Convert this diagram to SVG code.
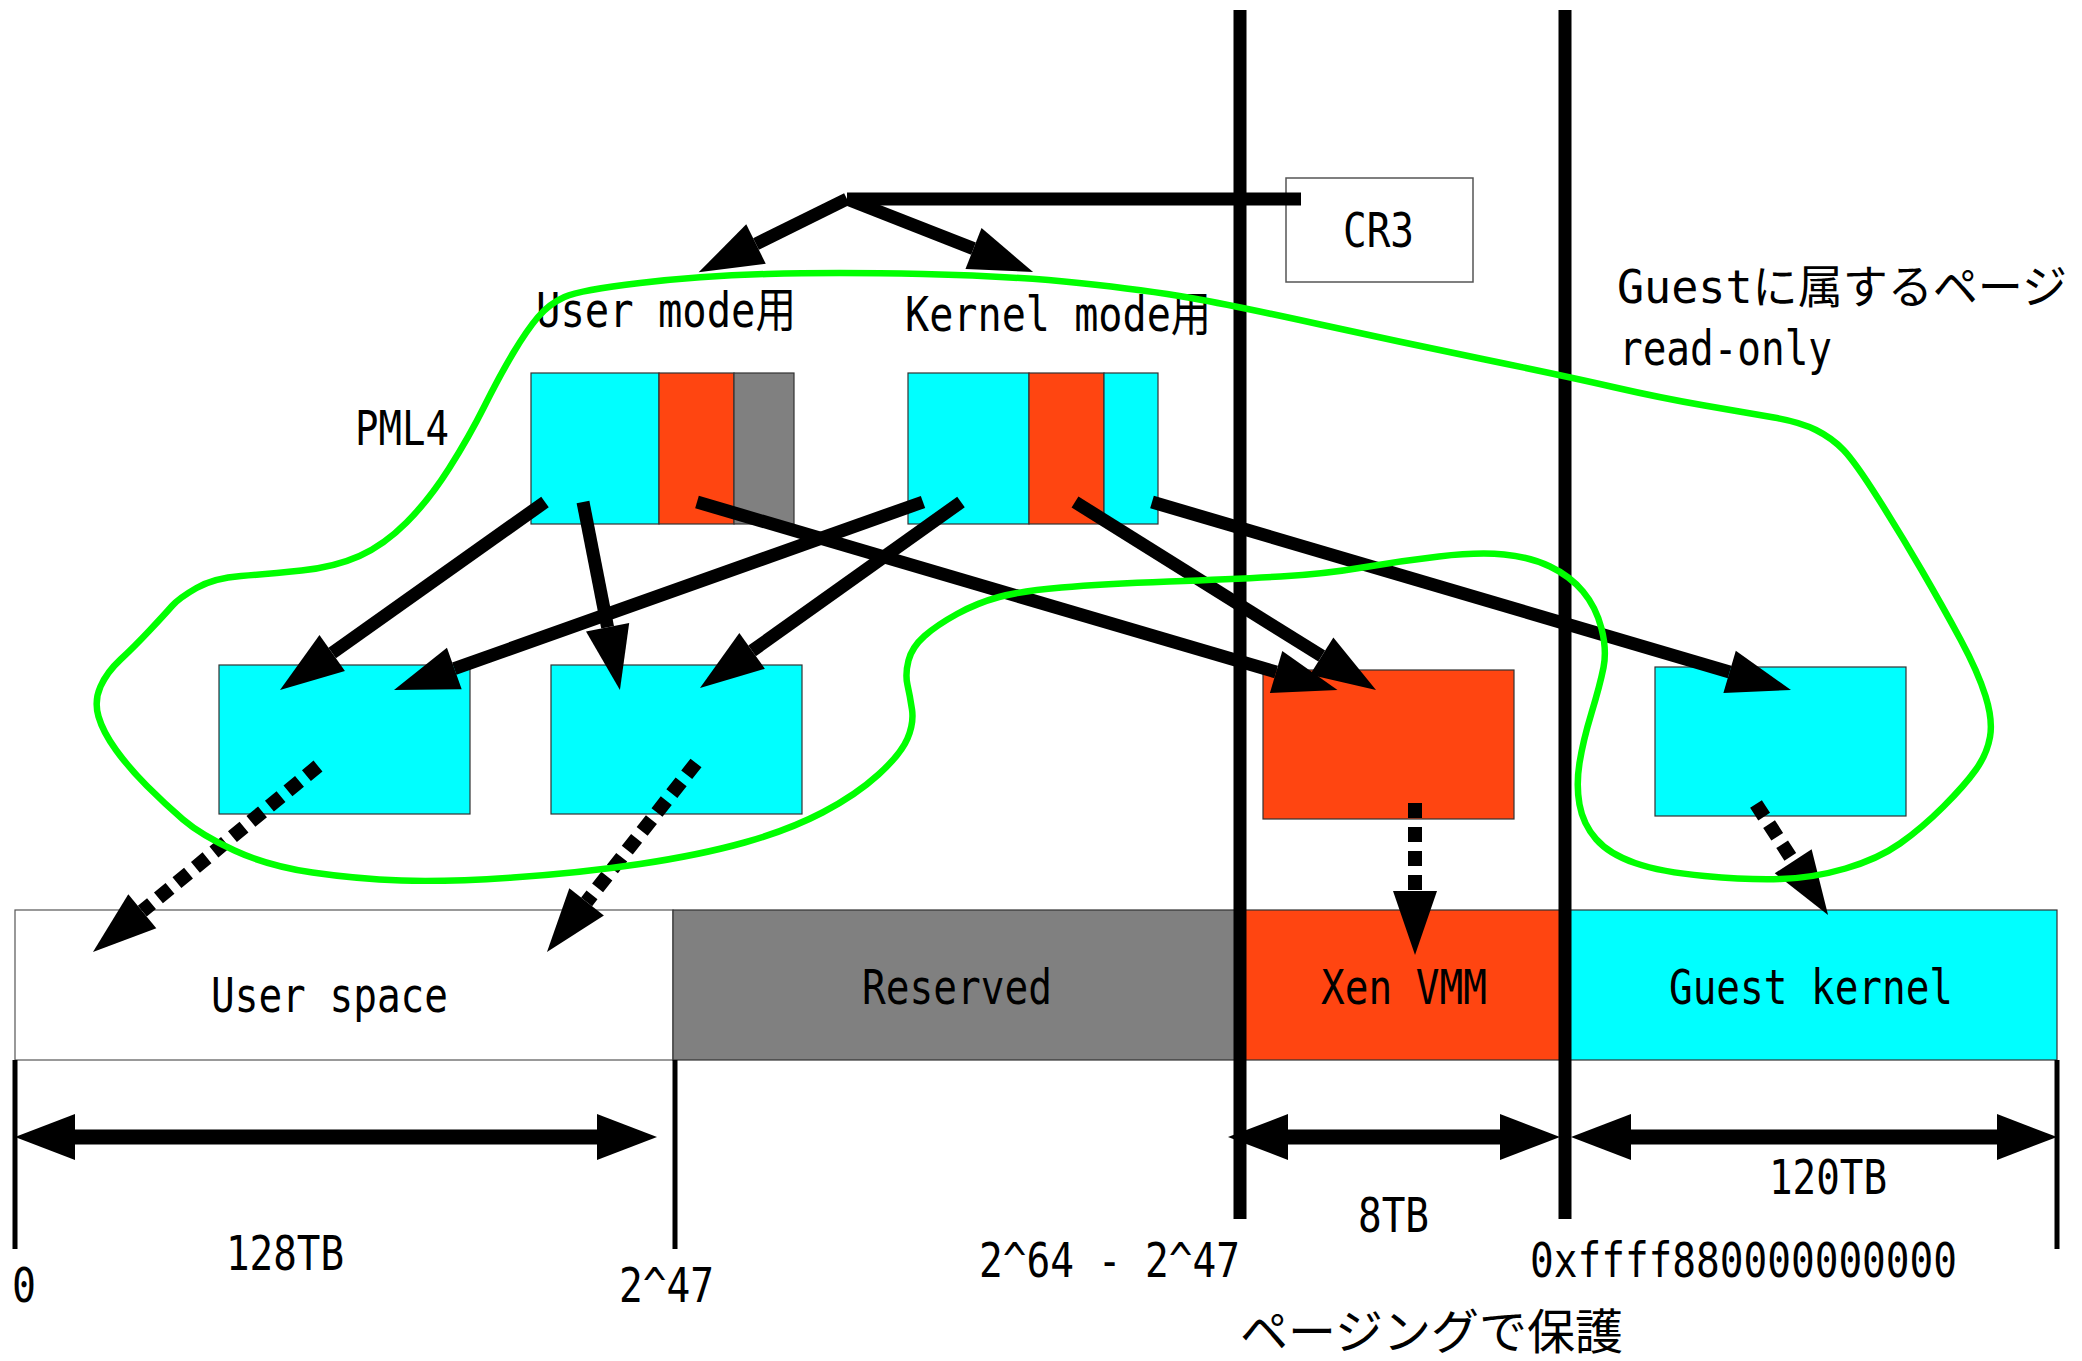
<svg xmlns="http://www.w3.org/2000/svg" width="2082" height="1361" viewBox="0 0 2082 1361">
<style>
.t{font-family:"DejaVu Sans Mono","Noto Sans CJK JP",monospace;font-size:48px;fill:#000}
.j{font-family:"Noto Sans CJK JP",sans-serif;font-size:48px;fill:#000}
.cy{fill:#00ffff;stroke:#333;stroke-width:1.2}
.rd{fill:#ff4511;stroke:#333;stroke-width:1.2}
.gy{fill:#808080;stroke:#333;stroke-width:1.2}
.wh{fill:#fff;stroke:#555;stroke-width:1.2}
.a{stroke:#000;stroke-width:13;fill:none;marker-end:url(#ah)}
.d{stroke:#000;stroke-width:14;fill:none;stroke-dasharray:15 9;marker-end:url(#ah)}
.dim{stroke:#000;stroke-width:15;fill:none;marker-start:url(#ah2);marker-end:url(#ah2)}
.tick{stroke:#000;stroke-width:5}
.bar{stroke:#000;stroke-width:13}
</style>
<defs>
<marker id="ah" viewBox="0 -22 64 44" refX="0" refY="0" markerWidth="64" markerHeight="44" markerUnits="userSpaceOnUse" orient="auto" overflow="visible"><path d="M0,-22 L64,0 L0,22 Z" fill="#000"/></marker>
<marker id="ah2" viewBox="0 -23 60 46" refX="0" refY="0" markerWidth="60" markerHeight="46" markerUnits="userSpaceOnUse" orient="auto-start-reverse" overflow="visible"><path d="M0,-23 L60,0 L0,23 Z" fill="#000"/></marker>
</defs>
<rect width="2082" height="1361" fill="#fff"/>

<g id="cr3"><rect x="1286" y="178" width="187" height="104" fill="#fff" stroke="#555" stroke-width="1.5"/><text class="t" x="1343" y="247" textLength="71" lengthAdjust="spacingAndGlyphs">CR3</text></g>
<g id="label-user-mode"><text class="t" x="536" y="327" textLength="260" lengthAdjust="spacingAndGlyphs">User mode用</text></g>
<g id="label-kernel-mode"><text class="t" x="905" y="331" textLength="306" lengthAdjust="spacingAndGlyphs">Kernel mode用</text></g>
<g id="label-pml4"><text class="t" x="355" y="445" textLength="94" lengthAdjust="spacingAndGlyphs">PML4</text></g>
<g id="label-guest"><text class="t" x="1617" y="303" font-size="46" textLength="450" lengthAdjust="spacingAndGlyphs" style="font-size:46px">Guestに属するページ</text><text class="t" x="1619" y="365" textLength="213" lengthAdjust="spacingAndGlyphs">read-only</text></g>

<g id="pml4-user"><rect class="cy" x="531" y="373" width="128" height="151"/><rect class="rd" x="659" y="373" width="75" height="151"/><rect class="gy" x="734" y="373" width="60" height="151"/></g>
<g id="pml4-kernel"><rect class="cy" x="908" y="373" width="121" height="151"/><rect class="rd" x="1029" y="373" width="75" height="151"/><rect class="cy" x="1104" y="373" width="54" height="151"/></g>

<g id="pt-a"><rect class="cy" x="219" y="665" width="251" height="149"/></g>
<g id="pt-b"><rect class="cy" x="551" y="665" width="251" height="149"/></g>
<g id="pt-c"><rect class="rd" x="1263" y="670" width="251" height="149"/></g>
<g id="pt-d"><rect class="cy" x="1655" y="667" width="251" height="149"/></g>

<g id="user-space"><rect class="wh" x="15" y="910" width="658" height="150"/><text class="t" x="211" y="1012" textLength="237" lengthAdjust="spacingAndGlyphs">User space</text></g>
<g id="reserved"><rect class="gy" x="673" y="910" width="567" height="150"/><text class="t" x="862" y="1004" textLength="190" lengthAdjust="spacingAndGlyphs">Reserved</text></g>
<g id="xen-vmm"><rect class="rd" x="1240" y="910" width="325" height="150"/><text class="t" x="1321" y="1004" textLength="166" lengthAdjust="spacingAndGlyphs">Xen VMM</text></g>
<g id="guest-kernel"><rect class="cy" x="1565" y="910" width="492" height="150"/><text class="t" x="1669" y="1004" textLength="284" lengthAdjust="spacingAndGlyphs">Guest kernel</text></g>

<g id="connectors">
<line x1="847" y1="199" x2="1301" y2="199" stroke="#000" stroke-width="13"/>
<line class="a" x1="847" y1="199" x2="756" y2="244"/>
<line class="a" x1="847" y1="199" x2="973.5" y2="248.6"/>
<line class="a" x1="545" y1="502" x2="332.2" y2="653"/>
<line class="a" x1="583" y1="502" x2="607.6" y2="627.2"/>
<line class="a" x1="697" y1="502" x2="1276.1" y2="672"/>
<line class="a" x1="923" y1="502" x2="454.3" y2="668.6"/>
<line class="a" x1="961" y1="502" x2="752.1" y2="650.9"/>
<line class="a" x1="1075" y1="502" x2="1321.7" y2="656.1"/>
<line class="a" x1="1152" y1="502" x2="1729.6" y2="671.9"/>
<line class="d" x1="318" y1="766" x2="142.3" y2="911.2"/>
<line class="d" x1="696" y1="763" x2="586.6" y2="901.8"/>
<line class="d" x1="1415" y1="803" x2="1415" y2="891"/>
<line class="d" x1="1756" y1="804" x2="1793.2" y2="861.3"/>
<line class="dim" x1="75" y1="1137" x2="597" y2="1137"/>
<line class="dim" x1="1288" y1="1137" x2="1500" y2="1137"/>
<line class="dim" x1="1631" y1="1137" x2="1997" y2="1137"/>
<line class="tick" x1="15" y1="1060" x2="15" y2="1249"/>
<line class="tick" x1="675" y1="1060" x2="675" y2="1249"/>
<line class="tick" x1="2057" y1="1060" x2="2057" y2="1249"/>
</g>

<g id="boundaries">
<line class="bar" x1="1240" y1="10" x2="1240" y2="1219"/>
<line class="bar" x1="1565" y1="10" x2="1565" y2="1219"/>
</g>

<g id="guest-region"><path fill="none" stroke="#00ff00" stroke-width="6.5" d="M 484.5,406 Q 500,375 513.5,352.5 Q 527,330 538,317 Q 549,304 564.5,297 Q 580,290 640,283 Q 700,276 767,274 Q 834,272 923,274 Q 1012,276 1079,283 Q 1146,290 1191,298 Q 1236,306 1318,324 Q 1400,342 1482.5,359 Q 1565,376 1613,387 Q 1661,398 1704.5,405.5 Q 1748,413 1774,417.5 Q 1800,422 1816,430 Q 1832,438 1843.5,450 Q 1855,462 1877.5,497.5 Q 1900,533 1921.5,570 Q 1943,607 1960.5,639.5 Q 1978,672 1985.5,696 Q 1993,720 1990,737 Q 1987,754 1976,769.5 Q 1965,785 1943.5,806.5 Q 1922,828 1900,843.5 Q 1878,859 1845.5,868.5 Q 1813,878 1780.5,879 Q 1748,880 1704.5,876 Q 1661,872 1635,863 Q 1609,854 1596,839 Q 1583,824 1579.5,804.5 Q 1576,785 1579.5,763 Q 1583,741 1591.5,713 Q 1600,685 1603.5,667.5 Q 1607,650 1601.5,628.5 Q 1596,607 1583,591.5 Q 1570,576 1550,566.5 Q 1530,557 1504,554.5 Q 1478,552 1439,556.5 Q 1400,561 1362.5,567.5 Q 1325,574 1280.5,576.5 Q 1236,579 1169,581.5 Q 1102,584 1061.5,587.5 Q 1021,591 999,597 Q 977,603 957,614 Q 937,625 924.5,636 Q 912,647 908.5,660.5 Q 905,674 907.5,685 Q 910,696 912,709.5 Q 914,723 907.5,738.5 Q 901,754 878.5,774.5 Q 856,795 822.5,812.5 Q 789,830 744.5,842.5 Q 700,855 640,864 Q 580,873 513,877.5 Q 446,882 401.5,880.5 Q 357,879 312.5,872.5 Q 268,866 234.5,850.5 Q 201,835 183,819.5 Q 165,804 147,786 Q 129,768 116,750 Q 103,732 98.5,716.5 Q 94,701 100.5,686.5 Q 107,672 120.5,659.5 Q 134,647 149.5,630.5 Q 165,614 172,606 Q 179,598 196.5,588 Q 214,578 241,576 Q 268,574 301.5,570.5 Q 335,567 359.5,556 Q 384,545 406.5,522.5 Q 429,500 449,468.5 Q 469,437 484.5,406 Z"/></g>

<g id="address-labels">
<text class="t" x="12" y="1302" textLength="24" lengthAdjust="spacingAndGlyphs">0</text>
<text class="t" x="226" y="1270" textLength="118" lengthAdjust="spacingAndGlyphs">128TB</text>
<text class="t" x="619" y="1302" textLength="95" lengthAdjust="spacingAndGlyphs">2^47</text>
<text class="t" x="979" y="1277" textLength="261" lengthAdjust="spacingAndGlyphs">2^64 - 2^47</text>
<text class="t" x="1358" y="1232" textLength="71" lengthAdjust="spacingAndGlyphs">8TB</text>
<text class="t" x="1769" y="1194" textLength="118" lengthAdjust="spacingAndGlyphs">120TB</text>
<text class="t" x="1530" y="1277" textLength="427" lengthAdjust="spacingAndGlyphs">0xffff880000000000</text>
<text class="j" x="1240" y="1349">ページングで保護</text>
</g>
</svg>
